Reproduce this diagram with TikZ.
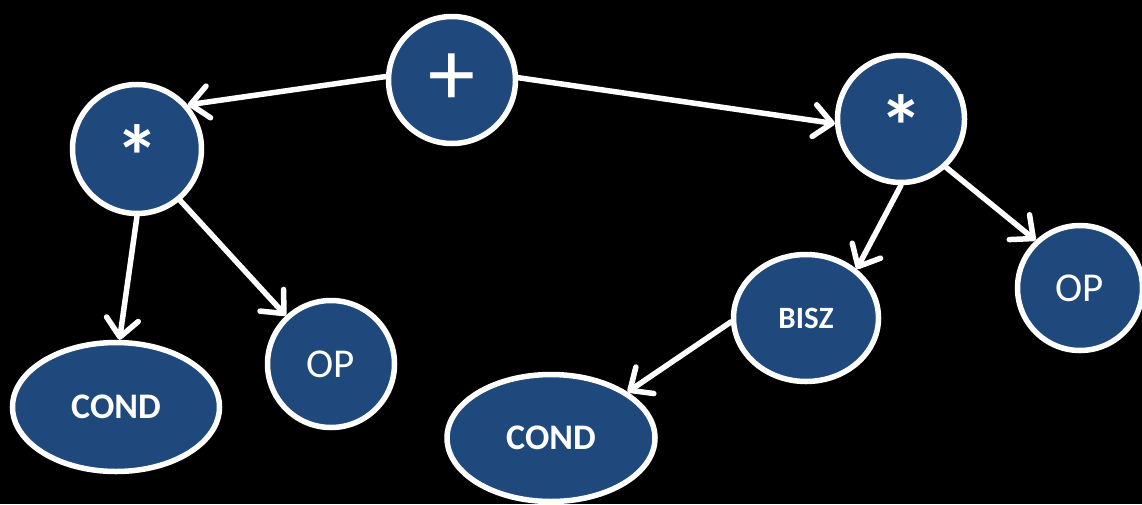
\documentclass[tikz,border=0pt]{standalone}
\usepackage{fontspec}
\setmainfont{Carlito}
\usetikzlibrary{shapes.geometric,arrows.meta}
\definecolor{nodeblue}{RGB}{31,73,125}
% asterisk set a little lower than its natural place
\newcommand{\startimes}{\raisebox{-7pt}[\height][0pt]{*}}
\tikzset{
  treenode/.style={draw=white, line width=5.5pt, fill=nodeblue, text=white, inner sep=0pt},
  roundnode/.style={treenode, circle, minimum size=#1},
  ovalnode/.style={treenode, ellipse},
  plusfont/.style={font=\fontsize{94}{94}\selectfont},
  starfont/.style={font=\fontsize{88}{88}\selectfont\bfseries},
  leaffont/.style={font=\fontsize{41}{41}\selectfont},
  condfont/.style={font=\fontsize{36}{36}\selectfont\bfseries},
  edge/.style={draw=white, line width=5.5pt, line cap=round,
    -{Straight Barb[length=18pt, width=32pt, line cap=round, line join=round]}},
}
\begin{document}
\begin{tikzpicture}[x=1pt, y=-1pt]
  % black page
  \fill[black] (0,0) rectangle (1142,504);
  \useasboundingbox (0,0) rectangle (1142,504);

  % operator nodes
  \node[roundnode=127pt, plusfont] (plus) at (452,80) {+};
  \node[roundnode=129pt, starfont] (multL) at (137,149) {\startimes};
  \node[roundnode=127pt, starfont] (multR) at (901,119) {\startimes};

  % leaves of the left product
  \node[ovalnode, minimum width=207pt, minimum height=129pt, condfont] (condL) at (116,407) {COND};
  \node[roundnode=127pt, leaffont] (opL) at (331,364) {OP};

  % right product
  \node[ovalnode, minimum width=145pt, minimum height=127pt,
        font=\fontsize{31}{31}\selectfont\bfseries] (bisz) at (806,318) {BISZ};
  \node[roundnode=125pt, leaffont] (opR) at (1080,288) {OP};
  \node[ovalnode, minimum width=208pt, minimum height=127pt, condfont] (condR) at (551,438) {COND};

  % edges
  \draw[edge] (plus.177) -- (multL.41);
  \draw[edge] (plus.2) -- (multR.184);
  \draw[edge] (multL.270) -- (condL.87);
  \draw[edge] (multL.310) -- (opL.133);
  \draw[edge] (multR.270) -- (bisz.44);
  \draw[edge] (multR.313) -- (opR.133);
  \draw[edge] (bisz.183) -- (condR.31);
\end{tikzpicture}
\end{document}
